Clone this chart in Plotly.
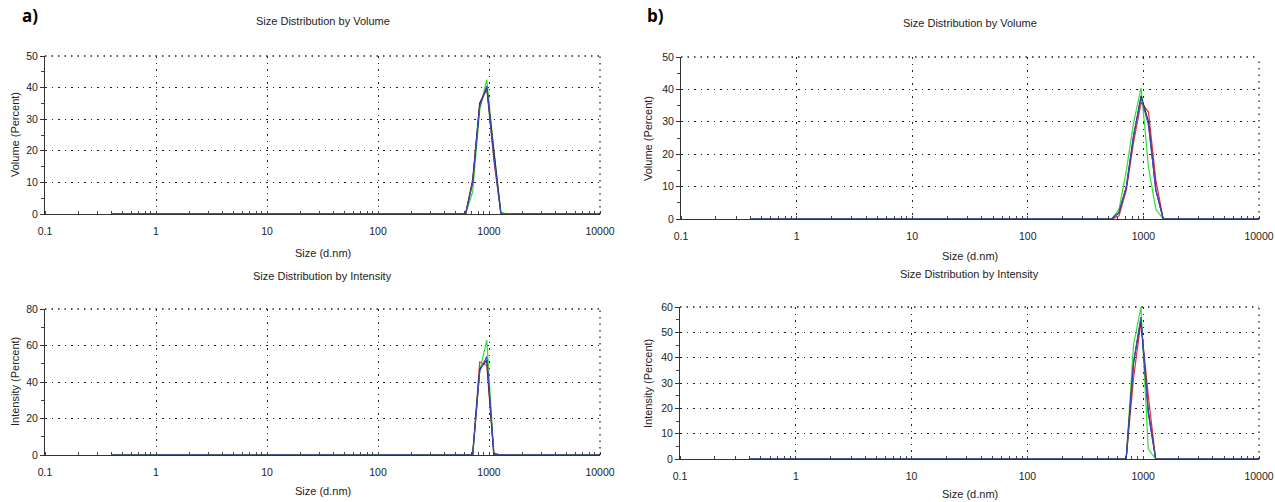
import plotly.graph_objects as go

# ---------------- data ----------------
SIZES = [0.4, 531.2, 615.1, 712.4, 825.0, 955.4, 1106, 1281, 1484, 1718, 10000]

# a) volume
a_vol_red   = [0, 0, 0, 11, 35, 39.5, 17, 0, 0, 0, 0]
a_vol_green = [0, 0, 0, 7, 33, 42.5, 20, 0.5, 0, 0, 0]
a_vol_black = [0, 0, 0, 10, 35, 40, 19, 0, 0, 0, 0]
a_vol_blue  = [0, 0, 0, 10, 34, 40.5, 18, 0, 0, 0, 0]
# a) intensity
a_int_red   = [0, 0, 0, 0, 51, 49, 0, 0, 0, 0, 0]
a_int_green = [0, 0, 0, 0, 46, 63, 0, 0, 0, 0, 0]
a_int_black = [0, 0, 0, 0, 47, 52, 0, 0, 0, 0, 0]
a_int_blue  = [0, 0, 0, 0, 46, 54, 1, 0, 0, 0, 0]
# b) volume
b_vol_red   = [0, 0, 1, 9, 24, 36, 33, 12, 0, 0, 0]
b_vol_green = [0, 0, 3, 15, 30, 40.5, 16, 3, 0, 0, 0]
b_vol_black = [0, 0, 2, 10, 26, 38, 30, 9, 0, 0, 0]
b_vol_blue  = [0, 0, 2, 10, 26, 37.5, 29, 9, 0, 0, 0]
# b) intensity
b_int_red   = [0, 0, 0, 0, 32, 54, 25, 0, 0, 0, 0]
b_int_green = [0, 0, 0, 0, 45, 60, 4, 0, 0, 0, 0]
b_int_black = [0, 0, 0, 0, 38, 55, 19, 0, 0, 0, 0]
b_int_blue  = [0, 0, 0, 0, 38, 56, 18, 0, 0, 0, 0]

X_TICKS = [0.1, 1, 10, 100, 1000, 10000]
X_TICKTEXT = ["0.1", "1", "10", "100", "1000", "10000"]

PANEL_TITLES = ["Size Distribution by Volume", "Size Distribution by Intensity",
                "Size Distribution by Volume", "Size Distribution by Intensity"]
Y_TITLES = ["Volume (Percent)", "Intensity (Percent)", "Volume (Percent)", "Intensity (Percent)"]
X_TITLE = "Size (d.nm)"

COLORS = {"red": "#e0303a", "green": "#30e030", "black": "#202030", "blue": "#4048c8"}

W, H = 1275, 502
FONT = "Liberation Sans, Arial, sans-serif"

fig = go.Figure()

panels = [
    dict(series=[a_vol_red, a_vol_green, a_vol_black, a_vol_blue], xpx=(45, 600), ypx=(56, 214),
         ymax=50, dtick=10, minor=5, title_y=21, xtitle_y=253, ytitle_x=15),
    dict(series=[a_int_red, a_int_green, a_int_black, a_int_blue], xpx=(45, 600), ypx=(309, 455),
         ymax=80, dtick=20, minor=10, title_y=276, xtitle_y=491, ytitle_x=15),
    dict(series=[b_vol_red, b_vol_green, b_vol_black, b_vol_blue], xpx=(681, 1259), ypx=(57, 219),
         ymax=50, dtick=10, minor=5, title_y=23, xtitle_y=256, ytitle_x=648),
    dict(series=[b_int_red, b_int_green, b_int_black, b_int_blue], xpx=(680, 1259), ypx=(307, 459),
         ymax=60, dtick=10, minor=5, title_y=274, xtitle_y=494, ytitle_x=648),
]

names = ["red", "green", "black", "blue"]
annotations = []
shapes = []
for i, p in enumerate(panels):
    k = "" if i == 0 else str(i + 1)
    xa, ya = "x" + k, "y" + k
    for nm, ser in zip(names, p["series"]):
        fig.add_trace(go.Scatter(x=SIZES, y=ser, mode="lines", xaxis=xa, yaxis=ya,
                                 line=dict(color=COLORS[nm], width=1.2), showlegend=False,
                                 name=nm))
    x0, x1 = p["xpx"]
    y0, y1 = p["ypx"]
    xd = [x0 / W, x1 / W]
    yd = [1 - y1 / H, 1 - y0 / H]
    grid = dict(showgrid=True, gridcolor="#222", griddash="1.5px,5px", gridwidth=1.3)
    fig.update_layout(**{
        "xaxis" + k: dict(domain=xd, type="log", range=[-1, 4], anchor=ya, automargin=False,
                          tickvals=X_TICKS, ticktext=X_TICKTEXT, ticks="", showline=True,
                          linecolor="#333", linewidth=1, zeroline=False, ticklabelstandoff=7,
                          tickfont=dict(family=FONT, size=10.5, color="#222"),
                          minor=dict(ticks="inside", ticklen=3, tickcolor="#444", dtick="D1",
                                     showgrid=False),
                          **grid),
        "yaxis" + k: dict(domain=yd, range=[0, p["ymax"]], anchor=xa, dtick=p["dtick"],
                          automargin=False,
                          ticks="outside", ticklen=4, tickcolor="#333", showline=True,
                          linecolor="#333", linewidth=1, zeroline=False,
                          tickfont=dict(family=FONT, size=10.5, color="#222"),
                          minor=dict(ticks="outside", ticklen=3, tickcolor="#444",
                                     dtick=p["minor"], showgrid=False),
                          **grid),
    })
    shapes.append(dict(type="line", xref=xa + " domain", yref=ya + " domain", x0=0, x1=1, y0=1, y1=1,
                       line=dict(color="#222", width=1.3, dash="1.5px,5px")))
    shapes.append(dict(type="line", xref=xa + " domain", yref=ya + " domain", x0=1, x1=1, y0=0, y1=1,
                       line=dict(color="#222", width=1.3, dash="1.5px,5px")))
    cx = (x0 + x1) / 2 / W
    annotations.append(dict(text=PANEL_TITLES[i], x=cx, y=1 - p["title_y"] / H, xref="paper", yref="paper",
                            showarrow=False, xanchor="center", yanchor="middle",
                            font=dict(family=FONT, size=11, color="#222")))
    annotations.append(dict(text=X_TITLE, x=cx, y=1 - p["xtitle_y"] / H, xref="paper", yref="paper",
                            showarrow=False, xanchor="center", yanchor="middle",
                            font=dict(family=FONT, size=11, color="#222")))
    annotations.append(dict(text=Y_TITLES[i], x=p["ytitle_x"] / W, y=1 - (y0 + y1) / 2 / H,
                            xref="paper", yref="paper", textangle=-90, showarrow=False,
                            xanchor="center", yanchor="middle",
                            font=dict(family=FONT, size=11, color="#222")))

annotations.append(dict(text="<b>a)</b>", x=20 / W, y=1 - 16 / H, xref="paper", yref="paper",
                        showarrow=False, xanchor="left", yanchor="middle",
                        font=dict(family="Open Sans, sans-serif", size=17, color="#000")))
annotations.append(dict(text="<b>b)</b>", x=645 / W, y=1 - 16 / H, xref="paper", yref="paper",
                        showarrow=False, xanchor="left", yanchor="middle",
                        font=dict(family="Open Sans, sans-serif", size=17, color="#000")))

fig.update_layout(width=W, height=H, margin=dict(l=0, r=0, t=0, b=0),
                  paper_bgcolor="white", plot_bgcolor="white",
                  annotations=annotations, shapes=shapes)

fig.write_html("out.html", config={"displayModeBar": False},
               post_script="document.body.style.margin='0';document.body.style.overflow='hidden';")
